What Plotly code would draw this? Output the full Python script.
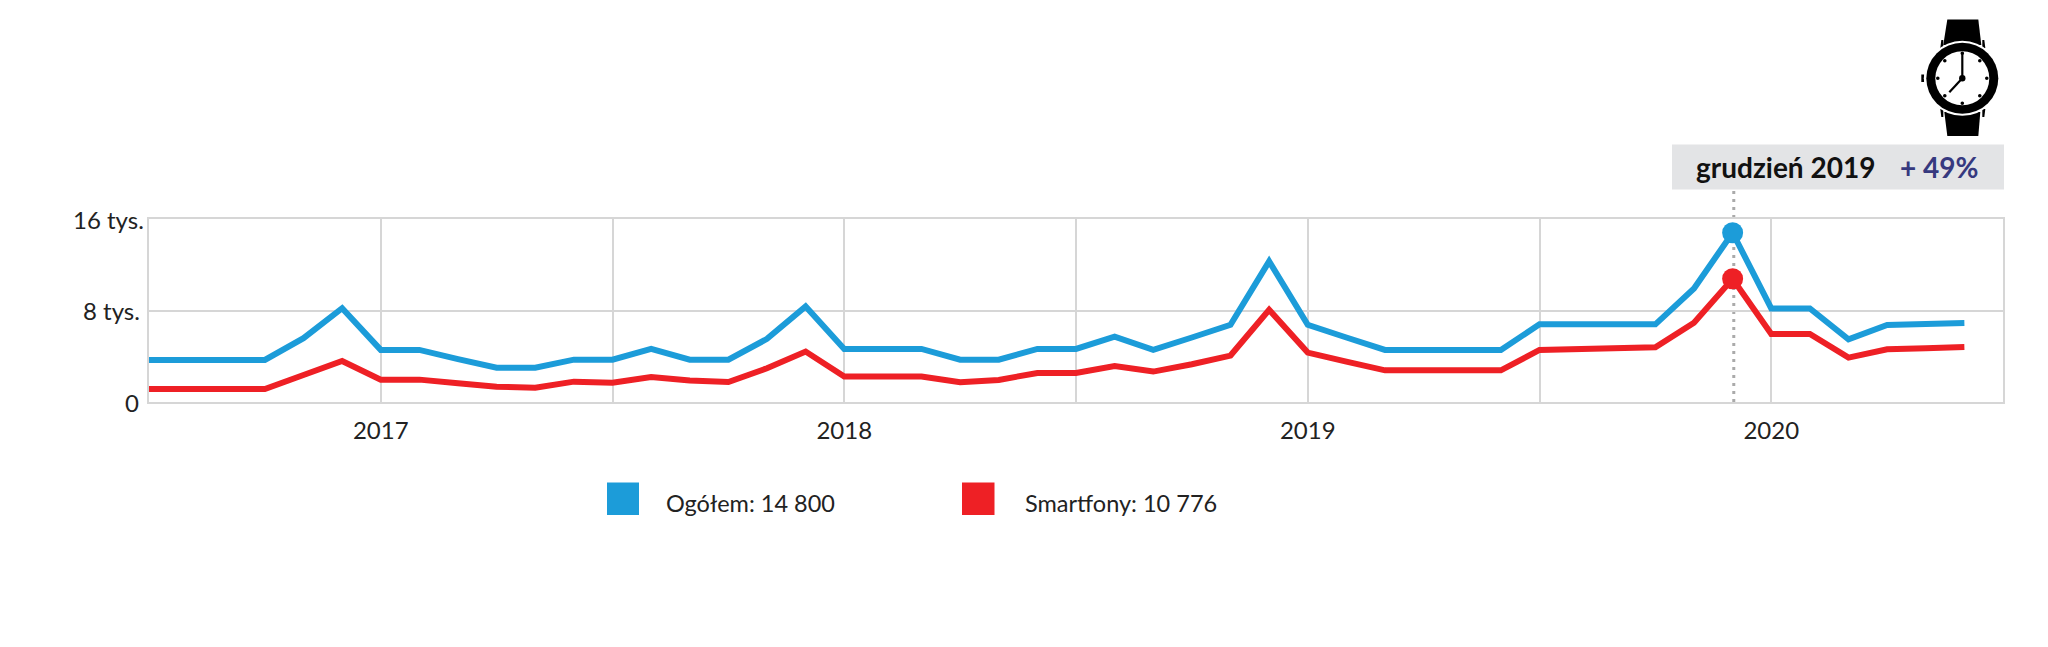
import plotly.graph_objects as go

months = [f"{y}-{m:02d}" for y in range(2016, 2021) for m in range(1, 13)
          if (y, m) >= (2016, 7) and (y, m) <= (2020, 6)]
ogolem = [3680, 3680, 3680, 3680, 5580, 8200,
          4555, 4555, 3750, 3000, 3000, 3700,
          3700, 4640, 3700, 3700, 5520, 8350,
          4640, 4640, 4640, 3700, 3700, 4640,
          4640, 5720, 4555, 5640, 6750, 12300,
          6750, 5640, 4555, 4555, 4555, 4555,
          6790, 6790, 6790, 6790, 9920, 14800,
          8180, 8180, 5480, 6730, 6815, 6900]
smartfony = [1140, 1140, 1140, 1140, 2365, 3590,
             1956, 1956, 1635, 1343, 1255, 1780,
             1690, 2190, 1870, 1750, 2950, 4410,
             2220, 2220, 2220, 1720, 1930, 2540,
             2540, 3150, 2660, 3300, 4060, 8060,
             4320, 3530, 2770, 2770, 2770, 2770,
             4550, 4610, 4700, 4785, 6930, 10776,
             5945, 5945, 3885, 4610, 4700, 4810]
x_ticks = [0, 6, 12, 18, 24, 30, 36, 42, 48]
x_labels = ["", "2017", "", "2018", "", "2019", "", "2020", ""]
y_ticks = [0, 8000, 16000]
y_labels = ["0", "8 tys.", "16 tys."]
y_shift = [-8, -7, -3]
highlight = "2019-12"
legend_texts = ["Ogółem: 14 800", "Smartfony: 10 776"]

BLUE = "#1c9cd9"
RED = "#ee2025"
GRID = "#d6d6d6"
FONT = "Lato"
W, H = 2048, 647
L, R, T, B = 149, 2003, 219, 402


def px(v):
    return (v - L) / (R - L)


def py(v):
    return (B - v) / (B - T)


def rect(x0, y0, x1, y1, color, layer="above"):
    return dict(type="rect", xref="paper", yref="paper", x0=px(x0), x1=px(x1),
                y0=py(y0), y1=py(y1), fillcolor=color, line_width=0, layer=layer)


def circ(cx, cy, rx, ry, color):
    return dict(type="circle", xref="paper", yref="paper", x0=px(cx - rx), x1=px(cx + rx),
                y0=py(cy - ry), y1=py(cy + ry), fillcolor=color, line_width=0)


def poly(points, color, width=0):
    d = "M " + " L ".join(f"{px(a):.5f},{py(b):.5f}" for a, b in points)
    if width:
        return dict(type="path", xref="paper", yref="paper", path=d,
                    line=dict(color=color, width=width))
    return dict(type="path", xref="paper", yref="paper", path=d + " Z",
                fillcolor=color, line_width=0)


idx = list(range(len(months)))
hi = months.index(highlight)

fig = go.Figure()
fig.add_trace(go.Scatter(x=idx, y=ogolem, mode="lines", line=dict(color=BLUE, width=6),
                         hoverinfo="skip", showlegend=False))
fig.add_trace(go.Scatter(x=idx, y=smartfony, mode="lines", line=dict(color=RED, width=6),
                         hoverinfo="skip", showlegend=False))
fig.add_trace(go.Scatter(x=[idx[hi]], y=[ogolem[hi]], mode="markers",
                         marker=dict(color=BLUE, size=21), hoverinfo="skip", showlegend=False))
fig.add_trace(go.Scatter(x=[idx[hi]], y=[smartfony[hi]], mode="markers",
                         marker=dict(color=RED, size=21), hoverinfo="skip", showlegend=False))

CX, CY = 1962.3, 78.3
shapes = [
    rect(1672, 144.5, 2004, 189.5, "#e3e4e6"),
    dict(type="line", xref="x", yref="paper", x0=idx[hi] + 0.03, x1=idx[hi] + 0.03,
         y0=0, y1=py(191), layer="below", line=dict(color="#aaaaaa", width=3, dash="3px,5px")),
    rect(607, 482.5, 639, 515, BLUE),
    rect(962, 482.5, 994.5, 515, RED),
    poly([(CX - 15, 19.5), (CX + 16, 19.5), (CX + 19, 45), (CX - 19, 45)], "#000000"),
    poly([(CX - 18, 112), (CX + 18, 112), (CX + 16, 136), (CX - 15, 136)], "#000000"),
    poly([(CX - 21, 40), (CX - 19, 40), (CX - 19, 48), (CX - 22, 48)], "#000000"),
    poly([(CX + 20, 40), (CX + 22, 40), (CX + 23, 48), (CX + 20, 48)], "#000000"),
    poly([(CX - 22, 109), (CX - 19, 109), (CX - 19, 117), (CX - 21, 117)], "#000000"),
    poly([(CX + 20, 109), (CX + 23, 109), (CX + 22, 117), (CX + 20, 117)], "#000000"),
    poly([(CX - 41, 74.5), (CX - 38, 74.5), (CX - 38, 82), (CX - 41, 82)], "#000000"),
    circ(CX, CY, 38.5, 37.5, "#ffffff"),
    circ(CX, CY, 36, 35.5, "#000000"),
    circ(CX, CY, 27, 27, "#ffffff"),
]
for dx, dy in [(0, -25), (0, 25), (-24.5, 0), (24.5, 0),
               (-17.5, -17.5), (17.5, -17.5), (-17.5, 17.5), (17.5, 17.5)]:
    shapes.append(circ(CX + dx, CY + dy, 1.8, 1.8, "#000000"))
shapes += [
    poly([(CX, CY), (CX, CY - 25)], "#000000", 2.2),
    poly([(CX, CY), (CX - 13, CY + 14)], "#000000", 2.2),
    circ(CX, CY, 3.2, 3.2, "#000000"),
]

ann = []
for v, t, s in zip(y_ticks, y_labels, y_shift):
    ann.append(dict(xref="paper", yref="y", x=0, y=v, text=t, showarrow=False, xanchor="right",
                    yanchor="middle", xshift=s, yshift=0,
                    font=dict(family=FONT, size=24, color="#222222")))
ann += [
    dict(xref="paper", yref="paper", x=px(1696), y=py(167), text="<b>grudzień 2019</b>", showarrow=False,
         xanchor="left", yanchor="middle", xshift=-2, font=dict(family=FONT, size=28, color="#111111")),
    dict(xref="paper", yref="paper", x=px(1900), y=py(167), text="<b>+ 49%</b>", showarrow=False,
         xanchor="left", yanchor="middle", xshift=-2, font=dict(family=FONT, size=28, color="#36397f")),
    dict(xref="paper", yref="paper", x=px(666), y=py(503), text=legend_texts[0], showarrow=False,
         xanchor="left", yanchor="middle", xshift=-2, font=dict(family=FONT, size=23.5, color="#222222")),
    dict(xref="paper", yref="paper", x=px(1024.5), y=py(503), text=legend_texts[1], showarrow=False,
         xanchor="left", yanchor="middle", xshift=-2, font=dict(family=FONT, size=23.5, color="#222222")),
]

fig.update_layout(
    width=W, height=H, margin=dict(l=L, r=W - R, t=T, b=H - B, pad=0),
    paper_bgcolor="#ffffff", plot_bgcolor="#ffffff", showlegend=False,
    shapes=shapes, annotations=ann,
    xaxis=dict(range=[x_ticks[0], x_ticks[-1]], tickmode="array", tickvals=x_ticks, ticktext=x_labels,
               showgrid=True, gridcolor=GRID, gridwidth=1.5, zeroline=False,
               showline=True, mirror=True, linecolor=GRID, linewidth=2,
               ticks="outside", ticklen=6, tickcolor="rgba(0,0,0,0)",
               tickfont=dict(family=FONT, size=24, color="#222222")),
    yaxis=dict(range=[y_ticks[0], y_ticks[-1]], tickmode="array", tickvals=y_ticks,
               showticklabels=False, showgrid=True, gridcolor=GRID, gridwidth=2, zeroline=False,
               showline=True, mirror=True, linecolor=GRID, linewidth=2, ticks=""),
)
fig.write_html("out.html", config={"displayModeBar": False},
               post_script="document.body.style.margin='0';")
